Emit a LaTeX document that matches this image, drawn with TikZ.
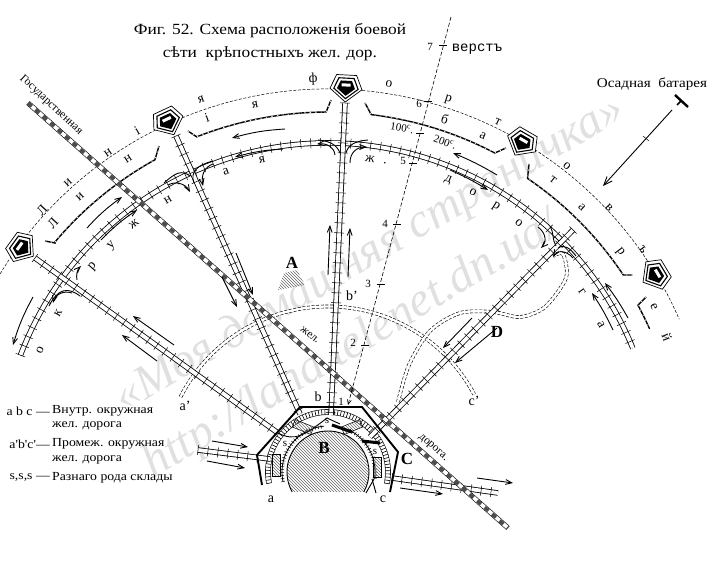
\documentclass[tikz,border=0pt]{standalone}
\usepackage{fontspec}
\setmainfont{Liberation Serif}
\setmonofont{Liberation Mono}
\newfontfamily\titlefont[FakeStretch=1.12]{Liberation Serif}
\usetikzlibrary{arrows.meta, decorations.pathreplacing, patterns, calc}

\begin{document}
\begin{tikzpicture}[
    x=1pt, y=-1pt,
    track/.style={draw, line width=.8pt, double, double distance=3.8pt, postaction={draw, line width=.5pt, decorate, decoration={ticks, segment length=10pt, amplitude=5pt}}},
    ladder/.style={draw, line width=.6pt, double, double distance=4.5pt, postaction={draw, line width=.6pt, decorate, decoration={ticks, segment length=3.2pt, amplitude=2.5pt}}},
    toothed/.style={draw, line width=.8pt, postaction={draw, line width=.5pt, decorate, decoration={ticks, segment length=3pt, amplitude=2pt}}},
    staterail/.style={draw, line width=5pt, postaction={draw, white, line width=3.8pt}, postaction={draw, black!70, line width=3.8pt, dash pattern=on 5pt off 5pt}},
    dashpair/.style={draw, line width=3.6pt, dash pattern=on 3pt off 1.6pt, postaction={draw, solid, white, line width=2.4pt}},
    fortwall/.style={draw, line width=1.4pt, postaction={draw, white, line width=.6pt, dash pattern=on 1.5pt off 4pt}},
    branch/.style={draw, line width=.9pt},
    flow/.style={draw, line width=.9pt, -{Straight Barb[length=2.2mm, width=1.7mm]}},
    bastion/.style={draw, line width=1.9pt},
    store/.style={draw, line width=.5pt, pattern=north west lines, pattern color=black!60},
    lett/.style={inner sep=0pt, font=\fontsize{13.5}{13.5}\selectfont},
    lblsmall/.style={inner sep=0pt, font=\fontsize{14}{14}\selectfont},
    lblbig/.style={inner sep=0pt, font=\fontsize{17}{17}\selectfont\bfseries},
    scalenum/.style={inner sep=0pt, font=\fontsize{11}{11}\selectfont},
    legend/.style={anchor=west, inner sep=0pt, font=\titlefont\fontsize{12.3}{12.3}\selectfont},
    legkey/.style={anchor=east, inner sep=0pt, font=\titlefont\fontsize{12.3}{12.3}\selectfont},
    water/.style={inner sep=0pt, text=black!12, font=\fontsize{48}{48}\selectfont\itshape},
    pics/fort/.style={code={
        \draw[line width=.7pt, fill=white] (-10,-13) -- (10,-13) -- (16,1) -- (0,14) -- (-16,1) -- cycle;
        \draw[line width=1.1pt, scale=.76] (-10,-13) -- (10,-13) -- (16,1) -- (0,14) -- (-16,1) -- cycle;
        \fill[scale=.56] (-10,-13) -- (10,-13) -- (16,1) -- (0,14) -- (-16,1) -- cycle;
        \fill[white] (-4.5,-4.5) rectangle (4.5,-1.5);
    }}
]
    \useasboundingbox (0,0) rectangle (720,560);

    % watermark
    \node[water, rotate=30.5] (wmark) at (370,255) {«Моя домашняя страничка»};
    \node[water, rotate=31] (wurl) at (352,346) {http://lana.telenet.dn.ua/};

    % title and legend
    \node[inner sep=0pt, align=center, font=\titlefont\fontsize{15.5}{23}\selectfont] (title) at (270,42) {Фиг. 52. Схема расположенія боевой\\сѣти\ \ крѣпостныхъ жел. дор.};
    \node[legkey] (key1) at (50,411) {a b c —};
    \node[legend] (lab1) at (52,411) {Внутр. окружная};
    \node[legend] (lab2) at (52,426) {жел. дорога};
    \node[legkey] (key2) at (50,444) {a'b'c'—};
    \node[legend] (lab3) at (52,444) {Промеж. окружная};
    \node[legend] (lab4) at (52,460) {жел. дорога};
    \node[legkey] (key3) at (50,478) {s,s,s —};
    \node[legend] (lab5) at (52,478) {Разнаго рода склады};

    % named points along the lines
    \coordinate (state1) at (28,103);
    \coordinate (state2) at (508,528);
    \coordinate (sp1a) at (35,258);
    \coordinate (sp1b) at (278,433);
    \coordinate (sp2a) at (176,136);
    \coordinate (sp2b) at (300,414);
    \coordinate (sp3a) at (345,103);
    \coordinate (sp3b) at (331,415);
    \coordinate (sp4a) at (573,230);
    \coordinate (sp4b) at (370,437);
    \coordinate (in1) at (198,450);
    \coordinate (in2) at (270,459);
    \coordinate (out1) at (392,478);
    \coordinate (out2) at (498,493);
    \coordinate (w1a) at (45,241);
    \coordinate (w1b) at (159,146);
    \coordinate (w2a) at (188,131);
    \coordinate (w2b) at (331,100);
    \coordinate (w3a) at (365,103);
    \coordinate (w3b) at (506,148);
    \coordinate (w4a) at (529,164);
    \coordinate (w4b) at (633,275);
    \coordinate (w5a) at (646,297);

    % forts' dotted line, middle ring, the rings of track
    \begin{scope}[shift={(328,472)}, y=1pt]
        \draw[line width=.5pt, dash pattern=on 3pt off 1.6pt] (164:383) arc[start angle=164, end angle=23.5, radius=383pt];
        \draw[dashpair] (153:165.5) arc[start angle=153, end angle=28, radius=165.5pt];
    \end{scope}
    \draw[dashpair] plot[smooth] coordinates {(398,402) (409,365) (430,331) (460,313) (493,312) (520,317) (545,307) (566,278) (563,254) (553,256)};

    \begin{scope}[shift={(328,472)}, y=1pt]
        \draw[track] (159.2:329) arc[start angle=159.2, end angle=22.1, radius=329pt];
        \draw[ladder] (190.7:60) arc[start angle=190.7, end angle=-11, radius=60pt];
        \draw[store, draw=none] (209:41) arc[start angle=209, end angle=-29, radius=41pt] -- cycle;
        \draw[line width=.9pt] (209:41) arc[start angle=209, end angle=-29, radius=41pt];
        \draw[toothed] (192:46) arc[start angle=192, end angle=95, radius=46pt];
        \draw[toothed] (62:47) arc[start angle=62, end angle=-8, radius=47pt];
        % walls between the forts
        \draw[fortwall] (w1a) -- ++(10,-2) -- (139.9:357) arc[start angle=139.9, end angle=119, radius=357pt] -- (w1b);
        \draw[fortwall] (w2a) -- (111.4:360) arc[start angle=111.4, end angle=90.3, radius=360pt] -- (w2b);
        \draw[fortwall] (w3a) -- (83.1:360) arc[start angle=83.1, end angle=62.4, radius=360pt] -- (w3b);
        \draw[fortwall] (w4a) -- (55.8:355) arc[start angle=55.8, end angle=33.7, radius=355pt] -- ++(9,0);
        \draw[fortwall] (w5a) -- (28.3:352) arc[start angle=28.3, end angle=24, radius=352pt];
    \end{scope}

    \draw[track] (sp1a) -- (sp1b);
    \draw[track] (sp2a) -- (sp2b);
    \draw[track] (sp3a) -- (sp3b);
    \draw[track] (sp4a) -- (sp4b);
    \draw[track] (in1) -- (in2);
    \draw[track] (out1) -- (out2);
    \draw[staterail] (state1) -- (state2);

    % curved links at the junctions
    \draw[branch] (80,296) .. controls (68,287) and (58,288) .. (49,306);
    \draw[branch] (194,183) .. controls (190,172) and (197,165) .. (213,161);
    \draw[branch] (190,176) .. controls (182,170) and (176,172) .. (164,183);
    \draw[branch] (340,153) .. controls (337,145) and (330,141) .. (318,140);
    \draw[branch] (346,153) .. controls (348,145) and (355,141) .. (368,140);
    \draw[branch] (556,246) .. controls (552,240) and (554,232) .. (550,226);
    \draw[branch] (558,248) .. controls (564,244) and (570,248) .. (576,256);
    \draw[branch] (278,433) .. controls (295,442) and (305,435) .. (327,418);
    \draw[branch] (327,418) -- (340,424);
    \draw[branch] (372,479) -- (376,493);
    \draw[branch] (374,479) -- (366,493);

    % arrows
    \draw[flow] (285,129) to[bend right=6] (232,138);
    \draw[flow] (283,149) to[bend right=6] (235,157);
    \draw[flow] (87,228) to[bend left=6] (122,197);
    \draw[flow] (101,240) to[bend left=6] (137,210);
    \draw[flow] (33,297) to[bend right=6] (13,345);
    \draw[flow] (497,175) to[bend right=4] (453,153);
    \draw[flow] (450,170) to[bend left=4] (488,190);
    \draw[flow] (628,318) to[bend right=4] (605,283);
    \draw[flow] (613,330) to[bend right=4] (592,293);
    \foreach \a/\b in {{174,345}/{133,316}, {157,361}/{122,335}, {328,275}/{330,225}, {348,277}/{350,228},
        {236,253}/{253,295}, {222,277}/{237,307}, {472,318}/{443,348}, {497,328}/{455,363},
        {212,441}/{248,447}, {207,461}/{245,468}, {400,488}/{443,494}, {477,478}/{513,483}}
        \draw[flow] (\a) -- (\b);
    \draw[flow] (335,155) .. controls (334,147) and (327,143) .. (317,144);
    \draw[flow] (350,163) .. controls (350,153) and (356,147) .. (367,147);
    \draw[flow] (213,164) .. controls (204,167) and (201,176) .. (203,186);
    \draw[flow] (168,185) .. controls (175,181) and (185,183) .. (190,192);
    \draw[flow] (72,293) .. controls (63,290) and (55,295) .. (53,303);
    \draw[flow] (77,280) .. controls (76,275) and (77,270) .. (81,266);
    \draw[flow] (538,227) .. controls (546,233) and (547,242) .. (541,248);
    \draw[flow] (573,258) .. controls (566,250) and (557,250) .. (553,257);

    % forts
    \foreach \x/\y/\r [count=\i] in {22/248/54, 168/122/25, 346/88/-3, 522/143/-30, 655/275/-59}
        \pic[rotate=\r] (fort\i) at (\x,\y) {fort};

    % central work
    \draw[bastion] (262,485) -- (257,455) -- (300,407) -- (362,407) -- (398,452) -- (390,492);
    \draw[store, rotate around={90:(276,465)}] (265,461) rectangle (287,469);
    \draw[store, rotate around={-22:(303,427)}] (293,423) rectangle (313,431);
    \draw[store, rotate around={22:(352,427)}] (342,423) rectangle (362,431);
    \draw[store] (373,457) rectangle (381,477);
    \draw[line width=3pt] (332,425) -- (352,432);
    \draw[line width=3pt] (362,441) -- (380,443);

    % mound
    \draw[store, draw=none] (278,290) -- (284,273) -- (297,270) -- (305,285) -- cycle;

    % scale in versts
    \draw[line width=.6pt, dash pattern=on 4pt off 2pt, -{Straight Barb[length=1.6mm, width=1.4mm]}] (451,17) -- (348,405);
    \foreach \x/\y in {443/45, 428/101, 420/133, 413/163, 397/224, 381/284, 365/345}
        \draw[line width=.5pt] (\x,\y) +(-4,0) -- +(4,0);
    \foreach \x/\y/\t [count=\i] in {430/47/7, 419/104/6, 403/161/5, 385/224/4, 368/284/3, 353/343/2, 341/402/1}
        \node[scalenum] (vnum\i) at (\x,\y) {\t};
    \node[inner sep=0pt, font=\ttfamily\fontsize{14}{14}\selectfont] (verst) at (477,49) {верстъ};
    \node[scalenum, rotate=-9] (dist1) at (402,128) {100\textsuperscript{c}.};
    \node[scalenum, rotate=-20] (dist2) at (445,142) {200\textsuperscript{c}.};

    % siege battery
    \node[inner sep=0pt, font=\titlefont\fontsize{13.5}{13.5}\selectfont] (siege) at (652,84) {Осадная\ \ батарея};
    \coordinate (gunA) at (675,95);
    \coordinate (gunB) at (688,107);
    \coordinate (gunC) at (681,101);
    \coordinate (gunD) at (677,105);
    \coordinate (fireA) at (672,110);
    \coordinate (fireB) at (603,186);
    \draw[line width=2.4pt] (gunA) -- (gunB);
    \draw[line width=1.5pt] (gunC) -- (gunD);
    \draw[line width=.9pt, -{Straight Barb[length=3mm, width=2.4mm]}] (fireA) -- (fireB);
    \draw[line width=.5pt] (643,136) -- (649,141);

    % letters round the arcs
    \foreach \x/\y/\t [count=\i] in {42/210/Л, 68/183/и, 108/153/н, 137/131/і, 201/100/я, 313/79/ф, 389/84/о, 448/100/р, 498/122/т, 567/166/о, 609/208/в, 643/250/ъ, 667/337/й,
        53/223/Л, 80/197/и, 128/159/н, 207/118/і, 255/105/я, 445/119/б, 483/136/а, 553/180/т, 582/207/а, 620/252/р, 654/307/е,
        40/350/о, 58/313/к, 93/267/р, 112/246/у, 134/224/ж, 168/200/н, 226/172/а, 262/160/я, 370/159/ж, 385/163/., 448/180/д, 473/192/о, 496/207/р, 519/223/о, 582/292/г, 601/325/а}
        \node[lett, rotate={atan2(328-\x,472-\y)}] (lett\i) at (\x,\y) {\t};

    % big and small marks
    \node[lblbig] (markA) at (292,263) {А};
    \node[lblbig] (markB) at (324,448) {В};
    \node[lblbig] (markC) at (407,459) {С};
    \node[lblbig] (markD) at (497,332) {D};
    \node[lblsmall] (marka) at (271,499) {а};
    \node[lblsmall] (markc) at (383,499) {с};
    \node[lblsmall] (markb) at (318,397) {b};
    \node[lblsmall] (markbb) at (352,296) {b'};
    \node[lblsmall] (markaa) at (185,406) {а'};
    \node[lblsmall] (markcc) at (474,401) {с'};
    \node[scalenum] (marks1) at (285,444) {s};
    \node[scalenum] (marks2) at (327,421) {s};
    \node[scalenum] (marks3) at (375,452) {s};
    \node[inner sep=0pt, font=\fontsize{11.5}{11.5}\selectfont, rotate=-43] (lstate) at (51,105) {Государственная};
    \node[inner sep=0pt, font=\fontsize{11.5}{11.5}\selectfont, rotate=-38] (lzhel) at (310,335) {жел.};
    \node[inner sep=0pt, font=\fontsize{11.5}{11.5}\selectfont, rotate=-42] (ldor) at (433,448) {дорога.};
\end{tikzpicture}
\end{document}
